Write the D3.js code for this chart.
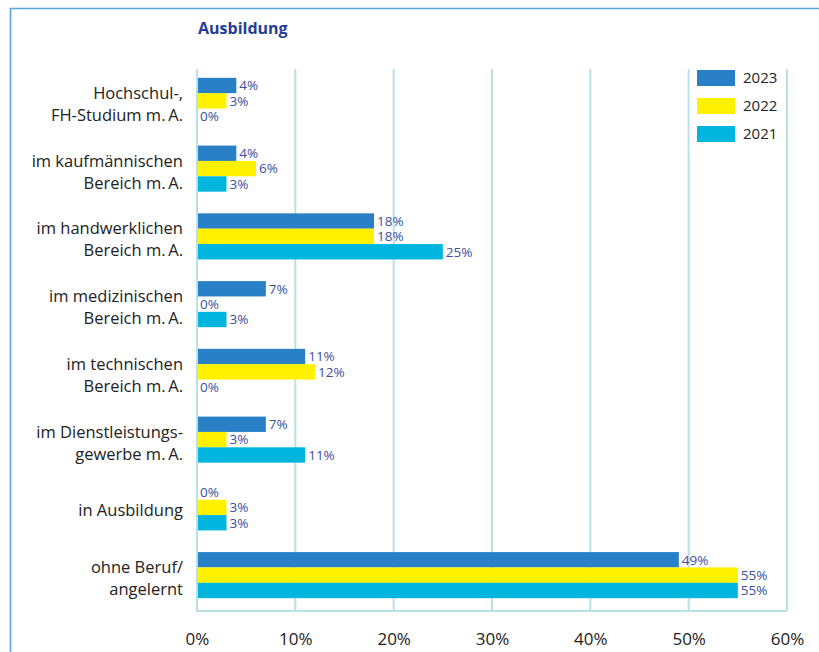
<!DOCTYPE html>
<html>
<head>
<meta charset="utf-8">
<script src="https://cdn.jsdelivr.net/npm/d3@7"></script>
<style>
  body { margin: 0; background: #fff; }
  svg { display: block; }
</style>
</head>
<body>
<svg></svg>
<script>
// data
var categories = [
    ["Hochschul-,", "FH-Studium m.\u2009A."],
    ["im kaufmännischen", "Bereich m.\u2009A."],
    ["im handwerklichen", "Bereich m.\u2009A."],
    ["im medizinischen", "Bereich m.\u2009A."],
    ["im technischen", "Bereich m.\u2009A."],
    ["im Dienstleistungs-", "gewerbe m.\u2009A."],
    ["in Ausbildung"],
    ["ohne Beruf/", "angelernt"]
];
var years = ["2023", "2022", "2021"];
var values2023 = [4, 4, 18, 7, 11, 7, 0, 49];
var values2022 = [3, 6, 18, 0, 12, 3, 3, 55];
var values2021 = [0, 3, 25, 3, 0, 11, 3, 55];
var xTicks = [0, 10, 20, 30, 40, 50, 60];

var colors = {"2023": "#2a80c6", "2022": "#fff100", "2021": "#00b6de"};
var series = {"2023": values2023, "2022": values2022, "2021": values2021};

var width = 819, height = 652;
var svg = d3.select("svg").attr("width", width).attr("height", height);

// frame of the box
svg.append("path")
    .attr("d", "M10.5," + height + "V8.5H" + width)
    .attr("fill", "none")
    .attr("stroke", "#5aa6dc")
    .attr("stroke-width", 1.6);

svg.append("text")
    .attr("x", 198).attr("y", 34)
    .attr("font-family", "'Open Sans', sans-serif")
    .attr("font-weight", "bold")
    .attr("font-size", 16)
    .attr("fill", "#253d92")
    .text("Ausbildung");

var plotLeft = 197, plotRight = 787, plotTop = 69, plotBottom = 611;

var x = d3.scaleLinear().domain([0, 60]).range([plotLeft, plotRight]);
var y = d3.scaleBand()
    .domain(d3.range(categories.length))
    .range([67, 609])
    .paddingInner(0.32)
    .paddingOuter(0.16);
var yInner = d3.scaleBand().domain(years).range([0, y.bandwidth()]);

// grid
svg.append("g").selectAll("line")
    .data(xTicks.slice(1))
    .enter().append("line")
    .attr("x1", function (d) { return x(d); })
    .attr("x2", function (d) { return x(d); })
    .attr("y1", plotTop).attr("y2", plotBottom)
    .attr("stroke", "#b8e0e7")
    .attr("stroke-width", 2);

// legend (white box over the grid)
var legend = svg.append("g");
legend.append("rect")
    .attr("x", x(50) + 1).attr("y", plotTop)
    .attr("width", x(60) - x(50) - 2).attr("height", 85)
    .attr("fill", "#fff");
years.forEach(function (yr, i) {
    legend.append("rect")
        .attr("x", 697).attr("y", 70 + i * 28)
        .attr("width", 38).attr("height", 16)
        .attr("fill", colors[yr]);
    legend.append("text")
        .attr("x", 743).attr("y", 78 + i * 28)
        .attr("dy", "0.36em")
        .attr("font-family", "'Open Sans', sans-serif")
        .attr("font-size", 15)
        .attr("fill", "#222")
        .text(yr);
});

// bars
var groups = svg.append("g").selectAll("g")
    .data(categories)
    .enter().append("g")
    .attr("transform", function (d, i) { return "translate(0," + y(i) + ")"; });

years.forEach(function (yr) {
    groups.append("rect")
        .attr("x", x(0))
        .attr("y", yInner(yr))
        .attr("width", function (d, i) { return x(series[yr][i]) - x(0); })
        .attr("height", yInner.bandwidth())
        .attr("fill", colors[yr]);
    groups.append("text")
        .attr("x", function (d, i) { return x(series[yr][i]) + 3; })
        .attr("y", yInner(yr) + yInner.bandwidth() / 2)
        .attr("dy", "0.36em")
        .attr("font-family", "'Open Sans', sans-serif")
        .attr("font-size", 13.5)
        .attr("fill", "#3a4fa3")
        .text(function (d, i) { return series[yr][i] + "%"; });
});

// category labels
groups.each(function (lines) {
    var g = d3.select(this);
    var c = y.bandwidth() / 2 + 9;
    var start = c - (lines.length - 1) * 11;
    lines.forEach(function (ln, j) {
        g.append("text")
            .attr("x", 183)
            .attr("y", start + j * 22)
            .attr("text-anchor", "end")
            .attr("font-family", "'Open Sans', sans-serif")
            .attr("font-size", 16.5)
            .attr("fill", "#222")
            .text(ln);
    });
});

// axes frame
svg.append("path")
    .attr("d", "M" + plotLeft + "," + plotTop + "V" + plotBottom + "H" + plotRight)
    .attr("fill", "none")
    .attr("stroke", "#b8e0e7")
    .attr("stroke-width", 2);

var xAxis = svg.append("g")
    .attr("transform", "translate(0," + plotBottom + ")")
    .call(d3.axisBottom(x).tickValues(xTicks).tickSize(0).tickPadding(22)
        .tickFormat(function (d) { return d + "%"; }));
xAxis.select(".domain").remove();
xAxis.selectAll("text")
    .attr("font-family", "'Open Sans', sans-serif")
    .attr("font-size", 17)
    .attr("fill", "#222");
</script>
</body>
</html>
